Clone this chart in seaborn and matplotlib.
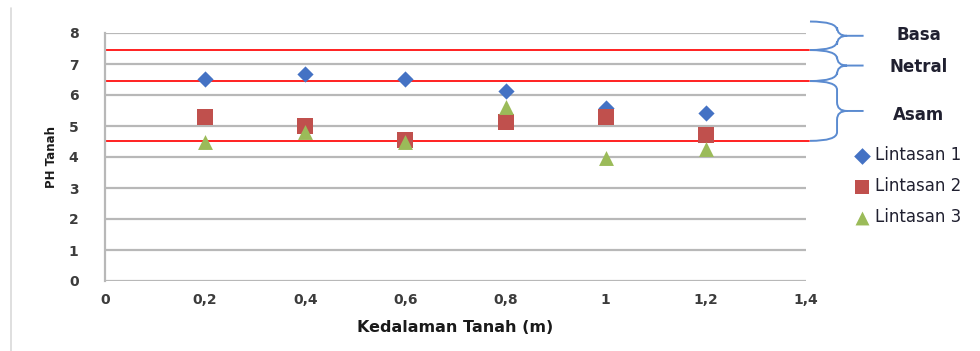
import matplotlib
matplotlib.use("Agg")
import matplotlib.pyplot as plt
from matplotlib.path import Path
from matplotlib.patches import PathPatch
import seaborn as sns
import pandas as pd

# ---- data ----
depth = [0.2, 0.4, 0.6, 0.8, 1.0, 1.2]
lintasan1 = [6.52, 6.69, 6.52, 6.12, 5.58, 5.41]
lintasan2 = [5.30, 4.99, 4.56, 5.12, 5.30, 4.71]
lintasan3 = [4.47, 4.82, 4.50, 5.60, 3.97, 4.27]
series_names = ["Lintasan 1", "Lintasan 2", "Lintasan 3"]
x_ticks = [0, 0.2, 0.4, 0.6, 0.8, 1.0, 1.2, 1.4]
x_tick_labels = ["0", "0,2", "0,4", "0,6", "0,8", "1", "1,2", "1,4"]
y_ticks = [0, 1, 2, 3, 4, 5, 6, 7, 8]
boundaries = [7.45, 6.45, 4.52]
zones = ["Basa", "Netral", "Asam"]
zone_ranges = [(8.37, 7.45), (7.45, 6.45), (6.45, 4.52)]

df = pd.DataFrame({
    "x": depth * 3,
    "y": lintasan1 + lintasan2 + lintasan3,
    "s": [series_names[0]] * 6 + [series_names[1]] * 6 + [series_names[2]] * 6,
})

sns.set_style("white")
plt.rcParams["font.family"] = ["DejaVu Sans"]

fig = plt.figure(figsize=(9.8, 3.51), dpi=100)
ax = fig.add_axes([105 / 980, 1 - 281 / 351, 701 / 980, 248 / 351])

grid_c = "#B8B8B8"
for yv in y_ticks:
    ax.axhline(yv, color=grid_c, lw=1.6, zorder=1)
for b in boundaries:
    ax.plot([0, 1.405], [b, b], color="#FF2020", lw=1.4, zorder=2, clip_on=False)

palette = {series_names[0]: "#4472C4", series_names[1]: "#C0504D", series_names[2]: "#9BBB59"}
markers = {series_names[0]: "D", series_names[1]: "s", series_names[2]: "^"}
sizes = {series_names[0]: 68, series_names[1]: 125, series_names[2]: 115}
for name in series_names:
    sub = df[df["s"] == name]
    sns.scatterplot(data=sub, x="x", y="y", color=palette[name], marker=markers[name],
                    s=sizes[name], linewidth=0, ax=ax, zorder=3, label=name)

ax.set_xlim(0, 1.4)
ax.set_ylim(0, 8)
ax.set_xticks(x_ticks)
ax.set_xticklabels(x_tick_labels)
ax.set_yticks(y_ticks)
for sp in ["top", "right", "bottom"]:
    ax.spines[sp].set_visible(False)
ax.spines["left"].set_color(grid_c)
ax.spines["left"].set_linewidth(1.6)
ax.tick_params(axis="both", length=0, labelsize=10, labelcolor="#3c3c3c")
ax.tick_params(axis="x", pad=9)
ax.tick_params(axis="y", pad=19)
for lab in ax.get_xticklabels() + ax.get_yticklabels():
    lab.set_fontweight("bold")
ax.set_xlabel("Kedalaman Tanah (m)", fontsize=11.5, fontweight="bold", color="#1a1a1a", labelpad=9)
ax.set_ylabel("PH Tanah", fontsize=8.5, fontweight="bold", color="#1a1a1a", labelpad=8)

# braces
def brace(ytop, ybot, xs=1.408, xm=1.462, xt=1.515, r=0.28, d=0.02):
    ymid = (ytop + ybot) / 2
    verts = [(xs, ytop), (xm, ytop), (xm, ytop - r),
             (xm, ymid + r), (xm, ymid), (xm + d, ymid),
             (xt, ymid),
             (xm + d, ymid), (xm, ymid), (xm, ymid - r),
             (xm, ybot + r), (xm, ybot), (xs, ybot)]
    codes = [Path.MOVETO, Path.CURVE3, Path.CURVE3,
             Path.LINETO, Path.CURVE3, Path.CURVE3,
             Path.LINETO,
             Path.MOVETO, Path.CURVE3, Path.CURVE3,
             Path.LINETO, Path.CURVE3, Path.CURVE3]
    p = PathPatch(Path(verts, codes), fill=False, edgecolor="#5B8BD0", lw=1.4,
                  clip_on=False, zorder=4)
    ax.add_patch(p)

for (yt, yb) in zone_ranges:
    brace(yt, yb)

zone_y = [7.95, 6.9, 5.36]
for name, yv in zip(zones, zone_y):
    ax.text(1.625, yv, name, ha="center", va="center", fontsize=12,
            fontweight="bold", color="#202030", clip_on=False)

leg = ax.legend(loc="upper left", bbox_to_anchor=(854 / 980, 1 - 146 / 351),
                bbox_transform=fig.transFigure, frameon=False, fontsize=12,
                handletextpad=0.25, labelspacing=0.78, handlelength=1.0,
                borderaxespad=0, borderpad=0)
for t in leg.get_texts():
    t.set_color("#202030")
leg_sizes = [8.5, 9.5, 10]
for h, ms in zip(leg.legend_handles, leg_sizes):
    try:
        h.set_sizes([ms ** 2])
    except AttributeError:
        h.set_markersize(ms)

# left border line of chart area
fig.add_artist(plt.Line2D([11 / 980, 11 / 980], [0, 1 - 8 / 351], transform=fig.transFigure,
                          color="#D9D9D9", lw=1.2))

fig.savefig("out.png", dpi=100)
